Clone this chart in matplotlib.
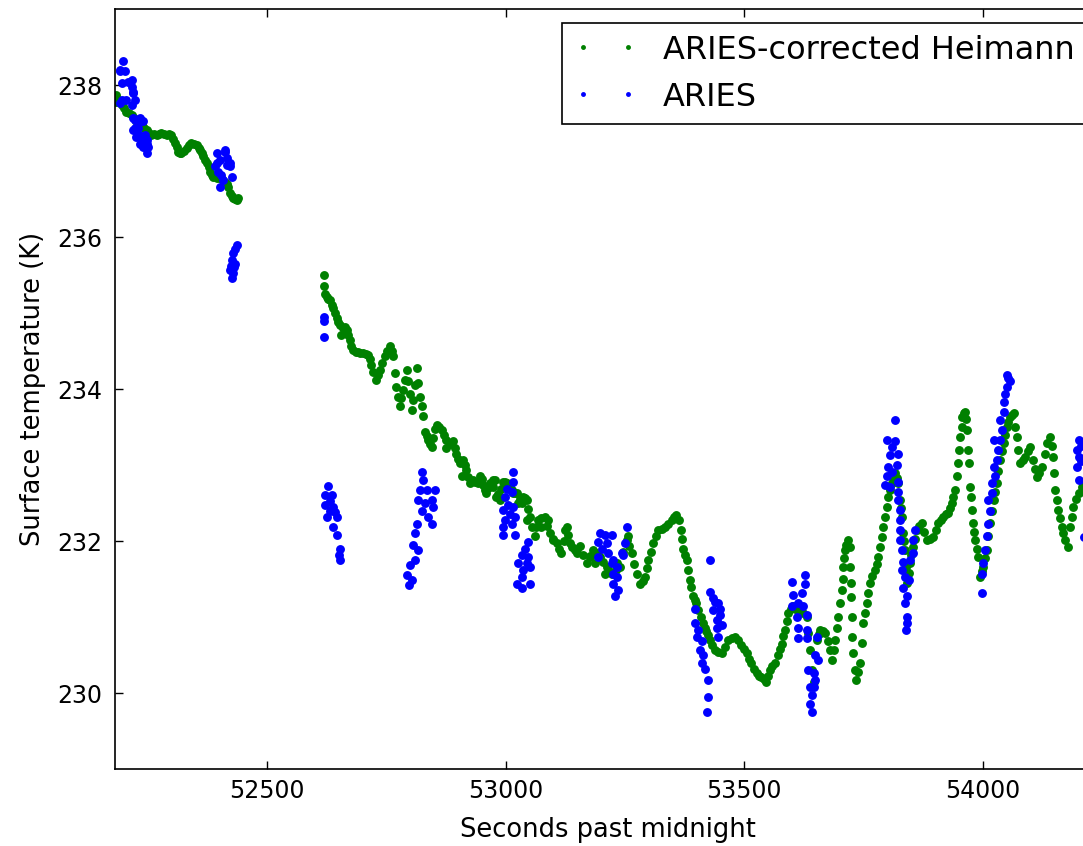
import matplotlib
matplotlib.use("Agg")
import matplotlib.pyplot as plt

# (seconds past midnight, surface temperature K)
heimann_early = [
    (52185, 237.87), (52185, 237.78), (52190, 237.80), (52196, 237.74), (52201, 237.70),
    (52206, 237.65), (52211, 237.63), (52217, 237.61), (52222, 237.56), (52227, 237.52),
    (52232, 237.50), (52238, 237.47), (52243, 237.44), (52248, 237.41), (52253, 237.37),
    (52258, 237.34), (52264, 237.35), (52269, 237.34), (52274, 237.36), (52279, 237.37),
    (52285, 237.35), (52290, 237.34), (52295, 237.35), (52300, 237.34), (52304, 237.29),
    (52307, 237.24), (52311, 237.18), (52314, 237.12), (52318, 237.11), (52321, 237.10),
    (52327, 237.13), (52332, 237.17), (52337, 237.21), (52342, 237.24), (52348, 237.23),
    (52353, 237.21), (52357, 237.17), (52360, 237.14), (52364, 237.10), (52367, 237.06),
    (52371, 237.01), (52374, 236.97), (52378, 236.92), (52381, 236.86), (52385, 236.82),
    (52388, 236.79), (52395, 236.78), (52402, 236.78), (52407, 236.76), (52412, 236.73),
    (52416, 236.70), (52419, 236.66), (52422, 236.58), (52426, 236.54), (52429, 236.51),
    (52433, 236.50), (52437, 236.49), (52440, 236.51),
]

heimann_late = [
    (52619, 235.50), (52619, 235.36), (52622, 235.25), (52625, 235.21), (52629, 235.19),
    (52632, 235.17), (52636, 235.11), (52639, 235.06), (52643, 235.00), (52646, 234.93),
    (52650, 234.88), (52653, 234.84), (52656, 234.71), (52660, 234.80), (52663, 234.82),
    (52667, 234.78), (52670, 234.71), (52674, 234.64), (52677, 234.57), (52681, 234.51),
    (52686, 234.49), (52691, 234.49), (52696, 234.47), (52702, 234.47), (52707, 234.46),
    (52712, 234.45), (52716, 234.40), (52719, 234.32), (52723, 234.22), (52728, 234.12),
    (52732, 234.18), (52737, 234.25), (52742, 234.34), (52747, 234.43), (52752, 234.50),
    (52758, 234.56), (52762, 234.50), (52765, 234.43), (52768, 234.21), (52770, 234.03),
    (52775, 233.90), (52779, 233.77), (52782, 233.88), (52786, 233.99), (52789, 234.12),
    (52793, 234.25), (52796, 234.10), (52800, 233.94), (52803, 233.72), (52807, 233.85),
    (52810, 234.05), (52814, 234.27), (52817, 234.08), (52821, 233.90), (52826, 233.77),
    (52827, 233.64), (52831, 233.44), (52835, 233.38), (52838, 233.33), (52842, 233.28),
    (52845, 233.24), (52849, 233.36), (52852, 233.47), (52856, 233.53), (52861, 233.50),
    (52866, 233.46), (52871, 233.40), (52876, 233.33), (52876, 233.22), (52883, 233.27),
    (52890, 233.31), (52894, 233.22), (52897, 233.15), (52901, 233.08), (52904, 233.02),
    (52908, 232.85), (52911, 233.07), (52914, 233.00), (52917, 232.93), (52921, 232.84),
    (52925, 232.76), (52932, 232.80), (52937, 232.78), (52943, 232.76), (52946, 232.85),
    (52950, 232.82), (52953, 232.74), (52957, 232.67), (52960, 232.63), (52963, 232.70),
    (52967, 232.76), (52971, 232.74), (52974, 232.71), (52974, 232.80), (52978, 232.80),
    (52981, 232.58), (52985, 232.62), (52988, 232.58), (52988, 232.54), (52991, 232.68),
    (52995, 232.78), (52999, 232.77), (53002, 232.76), (53006, 232.73), (53009, 232.71),
    (53013, 232.67), (53016, 232.63), (53020, 232.63), (53023, 232.63), (53027, 232.50),
    (53031, 232.55), (53035, 232.50), (53037, 232.58), (53040, 232.56), (53044, 232.54),
    (53044, 232.28), (53048, 232.42), (53051, 232.32), (53056, 232.18), (53061, 232.06),
    (53064, 232.18), (53068, 232.28), (53075, 232.30), (53075, 232.19), (53082, 232.32),
    (53087, 232.20), (53089, 232.28), (53093, 232.10), (53100, 232.03), (53100, 232.01),
    (53107, 231.97), (53112, 231.90), (53117, 231.84), (53122, 232.00), (53124, 232.14),
    (53128, 232.19), (53131, 232.08), (53135, 231.97), (53140, 231.92), (53145, 231.88),
    (53149, 231.84), (53150, 231.90), (53156, 231.93), (53163, 231.82), (53170, 231.71),
    (53177, 231.80), (53177, 231.79), (53184, 231.88), (53187, 231.71), (53191, 231.84),
    (53198, 231.79), (53205, 231.72), (53208, 231.57), (53212, 231.66), (53217, 231.61),
    (53222, 231.57), (53231, 231.62), (53233, 231.71), (53240, 231.66), (53247, 231.85),
    (53254, 232.01), (53257, 232.06), (53259, 231.93), (53264, 231.84), (53270, 231.70),
    (53275, 231.57), (53281, 231.44), (53287, 231.48), (53292, 231.53), (53296, 231.64),
    (53299, 231.75), (53304, 231.86), (53309, 231.97), (53315, 232.06), (53320, 232.14),
    (53327, 232.16), (53334, 232.19), (53341, 232.23), (53348, 232.28), (53353, 232.31),
    (53358, 232.34), (53364, 232.28), (53367, 232.15), (53370, 232.03), (53372, 231.90),
    (53376, 231.82), (53379, 231.75), (53382, 231.62), (53386, 231.49), (53389, 231.40),
    (53393, 231.27), (53396, 231.22), (53399, 231.18), (53404, 231.09), (53409, 231.00),
    (53414, 230.92), (53417, 230.86), (53420, 230.82), (53425, 230.76), (53428, 230.70),
    (53433, 230.63), (53439, 230.57), (53445, 230.54), (53453, 230.52), (53460, 230.60),
    (53466, 230.70), (53474, 230.73), (53480, 230.74), (53487, 230.70), (53494, 230.63),
    (53500, 230.58), (53505, 230.52), (53510, 230.45), (53515, 230.39), (53520, 230.32),
    (53526, 230.26), (53531, 230.23), (53536, 230.21), (53541, 230.18), (53545, 230.15),
    (53550, 230.22), (53554, 230.30), (53559, 230.35), (53564, 230.39), (53571, 230.50),
    (53575, 230.58), (53578, 230.65), (53582, 230.75), (53585, 230.83), (53589, 230.95),
    (53592, 231.05), (53598, 231.10), (53603, 231.14), (53610, 231.09), (53617, 231.09),
    (53624, 231.05), (53631, 231.00), (53634, 230.79), (53638, 230.57), (53641, 230.30),
    (53645, 230.15), (53652, 230.70), (53656, 230.78), (53659, 230.83), (53664, 230.81),
    (53669, 230.79), (53675, 230.68), (53680, 230.57), (53683, 230.43), (53687, 230.56),
    (53690, 230.70), (53694, 230.85), (53697, 231.00), (53700, 231.18), (53704, 231.36),
    (53706, 231.50), (53707, 231.66), (53709, 231.78), (53711, 231.88), (53714, 231.95),
    (53718, 232.01), (53721, 231.92), (53721, 231.66), (53723, 231.45), (53724, 231.26),
    (53725, 231.00), (53726, 230.74), (53728, 230.53), (53732, 230.30), (53735, 230.17),
    (53739, 230.28), (53742, 230.39), (53746, 230.66), (53749, 230.92), (53752, 231.05),
    (53756, 231.18), (53759, 231.32), (53763, 231.45), (53768, 231.54), (53774, 231.62),
    (53778, 231.70), (53781, 231.79), (53785, 231.92), (53788, 232.05), (53791, 232.18),
    (53795, 232.32), (53798, 232.45), (53802, 232.58), (53805, 232.67), (53809, 232.76),
    (53812, 232.83), (53816, 232.89), (53819, 232.83), (53822, 232.76), (53826, 232.54),
    (53828, 232.43), (53830, 232.32), (53833, 232.11), (53835, 232.00), (53837, 231.88),
    (53839, 231.66), (53840, 231.45), (53844, 231.58), (53847, 231.71), (53850, 231.82),
    (53854, 231.92), (53857, 232.03), (53861, 232.14), (53866, 232.20), (53872, 232.24),
    (53877, 232.12), (53882, 232.01), (53889, 232.03), (53896, 232.05), (53901, 232.15),
    (53906, 232.24), (53911, 232.28), (53917, 232.32), (53922, 232.35), (53927, 232.37),
    (53931, 232.43), (53934, 232.50), (53938, 232.58), (53941, 232.67), (53945, 232.85),
    (53948, 233.03), (53950, 233.20), (53952, 233.37), (53955, 233.50), (53957, 233.63),
    (53960, 233.68), (53962, 233.70), (53964, 233.60), (53966, 233.46), (53969, 233.20),
    (53971, 233.03), (53973, 232.71), (53974, 232.58), (53976, 232.41), (53978, 232.24),
    (53981, 232.12), (53983, 232.01), (53987, 231.90), (53990, 231.79), (53994, 231.53),
    (53998, 231.60), (54001, 231.66), (54005, 231.77), (54008, 231.88), (54011, 232.06),
    (54015, 232.24), (54018, 232.39), (54022, 232.54), (54025, 232.65), (54029, 232.76),
    (54032, 232.92), (54036, 233.07), (54039, 233.18), (54043, 233.29), (54046, 233.40),
    (54050, 233.50), (54053, 233.57), (54057, 233.63), (54060, 233.66), (54064, 233.68),
    (54067, 233.50), (54071, 233.37), (54074, 233.20), (54078, 233.03), (54083, 233.07),
    (54088, 233.11), (54094, 233.18), (54099, 233.24), (54105, 233.07), (54109, 232.95),
    (54113, 232.84), (54118, 232.90), (54123, 232.98), (54129, 233.14), (54134, 233.29),
    (54140, 233.37), (54144, 233.25), (54147, 233.11), (54149, 232.89), (54151, 232.67),
    (54155, 232.54), (54158, 232.41), (54162, 232.30), (54165, 232.19), (54168, 232.10),
    (54172, 232.01), (54177, 231.92), (54182, 232.19), (54186, 232.32), (54189, 232.45),
    (54195, 232.55), (54200, 232.63), (54207, 232.71), (54214, 232.75),
]

aries_early = [
    (52199, 238.31), (52192, 238.18), (52203, 238.18), (52196, 238.02), (52209, 238.04),
    (52192, 238.20), (52217, 238.07), (52217, 237.98), (52220, 237.89), (52220, 237.91),
    (52206, 237.80), (52196, 237.80), (52223, 237.80), (52217, 237.74), (52192, 237.76),
    (52223, 237.54), (52220, 237.56), (52234, 237.56), (52237, 237.52), (52241, 237.52),
    (52230, 237.43), (52223, 237.43), (52220, 237.41), (52230, 237.36), (52227, 237.32),
    (52237, 237.30), (52244, 237.34), (52241, 237.33), (52248, 237.28), (52248, 237.23),
    (52234, 237.23), (52237, 237.23), (52251, 237.19), (52241, 237.19), (52248, 237.10),
    (52395, 237.10), (52402, 237.01), (52412, 237.12), (52412, 237.14), (52416, 237.04),
    (52398, 236.86), (52405, 236.82), (52422, 236.93), (52422, 236.97), (52426, 236.79),
    (52402, 236.66), (52416, 236.95), (52391, 236.93), (52408, 236.75), (52395, 236.97),
    (52437, 235.89), (52433, 235.84), (52429, 235.79), (52426, 235.70), (52433, 235.65),
    (52424, 235.62), (52431, 235.60), (52422, 235.57), (52429, 235.52), (52426, 235.46),
]

aries_mid = [
    (52619, 234.95), (52619, 234.89), (52619, 234.69),
    (52628, 232.72), (52636, 232.61), (52622, 232.60), (52632, 232.52), (52622, 232.47),
    (52639, 232.45), (52632, 232.40), (52643, 232.38), (52625, 232.32), (52646, 232.32),
    (52639, 232.19), (52646, 232.08), (52653, 231.90), (52651, 231.82), (52653, 231.75),
    (52824, 232.91), (52827, 232.80), (52821, 232.67), (52835, 232.67), (52852, 232.67),
    (52817, 232.54), (52831, 232.50), (52845, 232.54), (52848, 232.45), (52824, 232.39),
    (52838, 232.32), (52814, 232.23), (52845, 232.23), (52810, 232.10), (52807, 231.95),
    (52817, 231.88), (52810, 231.75), (52800, 231.68), (52793, 231.55), (52804, 231.49),
    (52798, 231.42),
    (53016, 232.91), (53016, 232.78), (53002, 232.69), (53013, 232.65), (52999, 232.58),
    (53006, 232.47), (53016, 232.45), (52995, 232.41), (53009, 232.36), (53020, 232.32),
    (52999, 232.28), (52995, 232.19), (53013, 232.23), (52995, 232.08), (53020, 232.08),
    (53048, 231.99), (53041, 231.90), (53034, 231.82), (53048, 231.79), (53027, 231.71),
    (53044, 231.71), (53037, 231.62), (53051, 231.66), (53034, 231.53), (53023, 231.44),
    (53051, 231.44), (53034, 231.38),
    (53198, 232.10), (53208, 232.08), (53222, 232.08), (53194, 231.99), (53212, 231.97),
    (53201, 231.90), (53194, 231.79), (53215, 231.84), (53226, 231.75), (53222, 231.71),
    (53233, 231.66), (53226, 231.57), (53233, 231.53), (53226, 231.44), (53236, 231.36),
    (53229, 231.27), (53254, 232.19), (53250, 231.97), (53243, 231.84), (53246, 231.82),
]

aries_late = [
    (53428, 231.75), (53428, 231.33), (53435, 231.25), (53439, 231.20), (53445, 231.18),
    (53435, 231.09), (53449, 231.10), (53449, 231.03), (53442, 230.96), (53453, 230.89),
    (53442, 230.85), (53445, 230.74), (53397, 231.11), (53397, 230.92), (53404, 230.83),
    (53400, 230.74), (53411, 230.68), (53407, 230.57), (53414, 230.50), (53411, 230.39),
    (53418, 230.32), (53425, 230.17), (53425, 229.95), (53421, 229.75),
    (53599, 231.46), (53627, 231.55), (53627, 231.44), (53603, 231.29), (53620, 231.31),
    (53613, 231.18), (53599, 231.14), (53624, 231.14), (53610, 231.00), (53631, 231.03),
    (53613, 230.85), (53613, 230.72), (53631, 230.83), (53631, 230.72),
    (53652, 230.74), (53648, 230.50), (53655, 230.43), (53634, 230.30), (53645, 230.26),
    (53648, 230.17), (53638, 230.08), (53645, 230.08), (53641, 229.97), (53638, 229.86),
    (53641, 229.75),
    (53816, 233.59), (53798, 233.33), (53816, 233.31), (53809, 233.24), (53822, 233.15),
    (53805, 233.13), (53819, 233.00), (53802, 232.98), (53809, 232.91), (53798, 232.85),
    (53795, 232.74), (53805, 232.71), (53822, 232.78), (53822, 232.65), (53822, 232.54),
    (53826, 232.41), (53826, 232.28), (53826, 232.14), (53826, 232.01), (53830, 231.88),
    (53833, 231.72), (53830, 231.62), (53837, 231.53), (53844, 231.49), (53833, 231.38),
    (53840, 231.27), (53837, 231.18), (53840, 231.00), (53840, 230.92), (53839, 230.83),
    (53847, 231.75), (53854, 231.84), (53854, 232.01), (53858, 232.14),
    (53997, 231.31), (53997, 231.57), (54001, 231.71), (54004, 231.88), (54008, 232.06),
    (54011, 232.23), (54015, 232.39), (54011, 232.54), (54018, 232.63), (54018, 232.76),
    (54025, 232.85), (54022, 232.98), (54029, 233.07), (54032, 233.20), (54022, 233.33),
    (54036, 233.33), (54039, 233.46), (54036, 233.59), (54043, 233.70), (54043, 233.83),
    (54046, 233.94), (54050, 234.03), (54053, 234.14), (54050, 234.18), (54057, 234.10),
    (54200, 233.33), (54196, 233.20), (54205, 233.25), (54200, 233.11), (54205, 233.05),
    (54196, 232.98), (54200, 232.80), (54211, 232.05),
]

heimann_t, heimann_k = zip(*(heimann_early + heimann_late))
aries_t, aries_k = zip(*(aries_early + aries_mid + aries_late))

fig = plt.figure(figsize=(10.83, 8.46), dpi=100)
# axes run past the right edge of the figure
ax = fig.add_axes([115 / 1083, 77 / 846, 985 / 1083, 760 / 846])

ax.plot(heimann_t, heimann_k, "o", color="g", mec="g", mew=0, ms=6.4,
        label="ARIES-corrected Heimann")
ax.plot(aries_t, aries_k, "o", color="b", mec="b", mew=0, ms=6.4, label="ARIES")

ax.set_xlim(52182, 54245)
ax.set_ylim(229, 239)
ax.set_xticks([52500, 53000, 53500, 54000])
ax.set_yticks([230, 232, 234, 236, 238])

ax.tick_params(direction="in", length=6, width=1, top=True, right=True,
               labelsize=17)
ax.tick_params(axis="x", pad=7)
ax.tick_params(axis="y", pad=9)
for s in ax.spines.values():
    s.set_linewidth(1.2)

ax.set_xlabel("Seconds past midnight", fontsize=18.5, labelpad=10)
ax.set_ylabel("Surface temperature (K)", fontsize=18.5, labelpad=8)

leg = ax.legend(loc="upper right", numpoints=2, fontsize=23, markerscale=0.55,
                fancybox=False, framealpha=1, borderpad=0.35, handlelength=2.0,
                handletextpad=0.8, borderaxespad=0.45)
leg.get_frame().set_edgecolor("black")
leg.get_frame().set_linewidth(1.2)

fig.savefig("out.png", dpi=100, facecolor="white")
